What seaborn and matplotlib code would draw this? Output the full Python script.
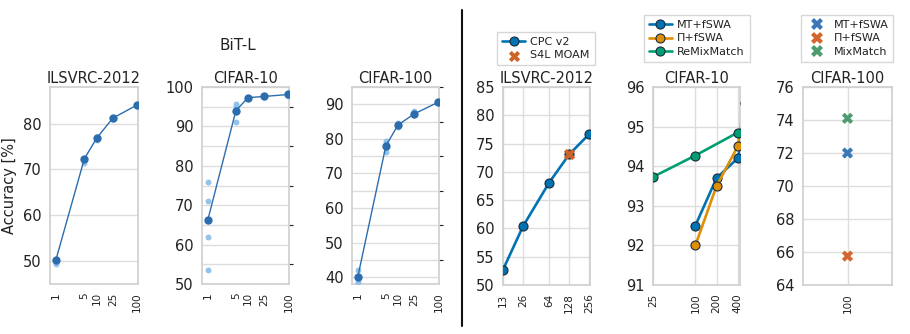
import numpy as np
import pandas as pd
import matplotlib
matplotlib.use("Agg")
import matplotlib.pyplot as plt
from matplotlib.ticker import MultipleLocator, FixedLocator, FixedFormatter, NullLocator
import seaborn as sns

# ---------------- data ----------------
bit_shots = [1, 5, 10, 25, 100]
bit_ilsvrc_mean = [50.2, 72.3, 76.8, 81.2, 84.1]
bit_cifar10_mean = [66.2, 94.0, 97.3, 97.6, 98.1]
bit_cifar100_mean = [40.0, 78.0, 84.0, 87.2, 90.6]

bit_ilsvrc_runs_x = [1, 1, 5, 5, 10, 10, 25, 100]
bit_ilsvrc_runs_y = [49.3, 49.8, 71.5, 72.0, 76.5, 77.0, 81.0, 84.0]
bit_cifar10_runs_x = [1, 1, 1, 1, 5, 5, 5, 5, 10, 10, 25, 25, 100, 100]
bit_cifar10_runs_y = [76.0, 71.0, 62.0, 53.5, 95.7, 95.2, 94.5, 91.0, 97.3, 97.2, 97.7, 97.5, 98.2, 97.8]
bit_cifar100_runs_x = [1, 1, 5, 5, 5, 10, 10, 25, 25, 100, 100]
bit_cifar100_runs_y = [42.0, 38.5, 79.5, 76.3, 78.5, 84.5, 83.3, 88.0, 86.8, 90.8, 90.4]

cpc_x = [13, 26, 64, 128, 256]
cpc_y = [52.7, 60.4, 68.1, 73.1, 76.7]
s4l_x = [128]
s4l_y = [73.2]
ilsvrc_ticks = [13, 26, 64, 128, 256]

c10_mt_x = [100, 200, 400, 500]
c10_mt_y = [92.5, 93.7, 94.2, 94.95]
c10_pi_x = [100, 200, 400, 500]
c10_pi_y = [92.0, 93.5, 94.5, 95.6]
c10_remix_x = [25, 100, 400]
c10_remix_y = [93.73, 94.27, 94.85]
c10_ticks = [25, 100, 200, 400]

c100_methods = ["MT+fSWA", "\u03a0+fSWA", "MixMatch"]
c100_labels = ["100", "100", "100"]
c100_acc = [72.0, 65.75, 74.1]

# ---------------- style ----------------
sns.set_theme(style="whitegrid")
plt.rcParams["font.family"] = ["DejaVu Sans"]
plt.rcParams.update({
    "axes.edgecolor": "#d0d0d0",
    "grid.color": "#dddddd",
    "grid.linewidth": 1.0,
    "text.color": "#222222",
    "axes.labelcolor": "#222222",
    "xtick.color": "#222222",
    "ytick.color": "#222222",
})

W, H = 910, 334
fig = plt.figure(figsize=(9.1, 3.34), dpi=100)

def rect(l, r, t, b):
    return [l / W, 1 - b / H, (r - l) / W, (b - t) / H]

dark_blue = "#2c6dae"
light_blue = "#8dc0ea"
YLAB = 10.5
XLAB = 7.5
TITLE = 10.5

def bit_panel(pos, title, runs_x, runs_y, mean_y, ylim, ymajor, yminor=None):
    ax = fig.add_axes(pos)
    sns.scatterplot(x=runs_x, y=runs_y, ax=ax, color=light_blue, s=18, linewidth=0,
                    alpha=0.95, zorder=3)
    sns.lineplot(x=bit_shots, y=mean_y, ax=ax, color=dark_blue, marker="o",
                 markersize=6, markeredgewidth=0, linewidth=1.0, zorder=4)
    ax.set_xscale("log")
    ax.set_xlim(0.72, 104)
    ax.set_ylim(*ylim)
    ax.xaxis.set_major_locator(FixedLocator(bit_shots))
    ax.xaxis.set_major_formatter(FixedFormatter([str(v) for v in bit_shots]))
    ax.xaxis.set_minor_locator(NullLocator())
    step = yminor if yminor else ymajor
    # gridlines at every `step`; labels and left ticks only at multiples of ymajor
    ax.yaxis.set_major_locator(MultipleLocator(step))
    ax.yaxis.set_major_formatter(
        plt.FuncFormatter(lambda v, p: f"{v:.0f}" if abs(v % ymajor) < 1e-6 else ""))
    ax.tick_params(axis="y", which="major", length=4, width=0.8,
                   color="#222222", labelsize=YLAB, pad=2)
    ax.tick_params(axis="x", which="major", length=4, width=0.8, color="#222222",
                   labelsize=XLAB, labelrotation=90, pad=2)
    ax.xaxis.grid(False, which="both")
    ax.yaxis.grid(True, which="major", color="#dddddd", linewidth=1.0)
    ax.set_title(title, fontsize=TITLE, pad=3)
    fig.canvas.draw()
    if yminor:
        for t in ax.yaxis.get_major_ticks():
            v = t.get_loc()
            if abs(v % ymajor) > 1e-6:
                t.tick1line.set_visible(False)
                t.tick2line.set_visible(True)
                t.tick2line.set_markersize(3)
    return ax

ax1 = bit_panel(rect(50, 138, 87, 284), "ILSVRC-2012", bit_ilsvrc_runs_x, bit_ilsvrc_runs_y,
                bit_ilsvrc_mean, (45, 88), 10)
ax1.set_ylabel("Accuracy [%]", fontsize=10.5, labelpad=4)
ax2 = bit_panel(rect(202, 289, 87, 284), "CIFAR-10", bit_cifar10_runs_x, bit_cifar10_runs_y,
                bit_cifar10_mean, (50, 100), 10, 5)
ax3 = bit_panel(rect(352, 439, 87, 284), "CIFAR-100", bit_cifar100_runs_x, bit_cifar100_runs_y,
                bit_cifar100_mean, (38, 95), 10, 5)

fig.text(238 / W, 1 - 46 / H, "BiT-L", ha="center", va="center", fontsize=11)

# divider
fig.add_artist(plt.Line2D([462 / W, 462 / W], [1 - 10 / H, 1 - 326 / H],
                          color="#111111", linewidth=1.5, transform=fig.transFigure))

cb_blue, cb_orange, cb_green = "#0173b2", "#de8f05", "#029e73"

def right_common(ax, title):
    ax.grid(axis="both", which="major", visible=True)
    ax.tick_params(axis="y", length=4, width=0.8, color="#222222", labelsize=YLAB, pad=2)
    ax.tick_params(axis="x", length=4, width=0.8, color="#222222", labelsize=XLAB,
                   labelrotation=90, pad=2)
    ax.set_title(title, fontsize=TITLE, pad=3)

leg_kw = dict(fontsize=8, frameon=True, fancybox=False, edgecolor="#cccccc",
              handlelength=2.0, borderpad=0.45, labelspacing=0.35, handletextpad=0.5)

# ILSVRC semi-supervised
ax4 = fig.add_axes(rect(503, 590, 87, 285))
sns.lineplot(x=cpc_x, y=cpc_y, ax=ax4, color=cb_blue, marker="o", markersize=6.5,
             markeredgecolor="#1a2a3a", markeredgewidth=0.8, linewidth=1.9,
             label="CPC v2", zorder=3)
sns.scatterplot(x=s4l_x, y=s4l_y, ax=ax4, color="#cf6328", marker="X", s=65,
                linewidth=0, label="S4L MOAM", zorder=4)
ax4.set_xscale("log")
ax4.set_xlim(13, 262)
ax4.set_ylim(50, 85)
ax4.xaxis.set_major_locator(FixedLocator(ilsvrc_ticks))
ax4.xaxis.set_major_formatter(FixedFormatter([str(v) for v in ilsvrc_ticks]))
ax4.xaxis.set_minor_locator(NullLocator())
ax4.yaxis.set_major_locator(MultipleLocator(5))
right_common(ax4, "ILSVRC-2012")
h, l = ax4.get_legend_handles_labels()
ax4.legend_.remove()
fig.legend(h, l, loc="upper center", bbox_to_anchor=(546 / W, 1 - 26 / H), **leg_kw)

# CIFAR-10 semi-supervised
ax5 = fig.add_axes(rect(653, 740, 87, 285))
for xs, ys, c, lab in [(c10_mt_x, c10_mt_y, cb_blue, "MT+fSWA"),
                       (c10_pi_x, c10_pi_y, cb_orange, "\u03a0+fSWA"),
                       (c10_remix_x, c10_remix_y, cb_green, "ReMixMatch")]:
    sns.lineplot(x=xs, y=ys, ax=ax5, color=c, marker="o", markersize=6.5,
                 markeredgecolor="#1a2a3a", markeredgewidth=0.8, linewidth=1.9,
                 label=lab, zorder=3)
ax5.set_xscale("log")
ax5.set_xlim(25, 431)
ax5.set_ylim(91, 96)
ax5.xaxis.set_major_locator(FixedLocator(c10_ticks))
ax5.xaxis.set_major_formatter(FixedFormatter([str(v) for v in c10_ticks]))
ax5.xaxis.set_minor_locator(NullLocator())
ax5.yaxis.set_major_locator(MultipleLocator(1))
right_common(ax5, "CIFAR-10")
h, l = ax5.get_legend_handles_labels()
ax5.legend_.remove()
fig.legend(h, l, loc="upper center", bbox_to_anchor=(697 / W, 1 - 9 / H), **leg_kw)

# CIFAR-100 semi-supervised
ax6 = fig.add_axes(rect(803, 892, 87, 285))
c100_df = pd.DataFrame({"labels": c100_labels, "acc": c100_acc, "method": c100_methods})
sns.scatterplot(data=c100_df, x="labels", y="acc", hue="method", ax=ax6,
                palette=["#3a78b8", "#d2662c", "#4d9c6f"], marker="X", s=65,
                linewidth=0, zorder=3)
ax6.set_xlim(-1, 1)
ax6.set_ylim(64, 76)
ax6.yaxis.set_major_locator(MultipleLocator(2))
ax6.set_xlabel("")
ax6.set_ylabel("")
right_common(ax6, "CIFAR-100")
h, l = ax6.get_legend_handles_labels()
ax6.legend_.remove()
fig.legend(h, l, loc="upper center", bbox_to_anchor=(847 / W, 1 - 9 / H), **leg_kw)

for ax in [ax4, ax5]:
    ax.set_xlabel("")
    ax.set_ylabel("")

fig.savefig("out.png", dpi=100)
